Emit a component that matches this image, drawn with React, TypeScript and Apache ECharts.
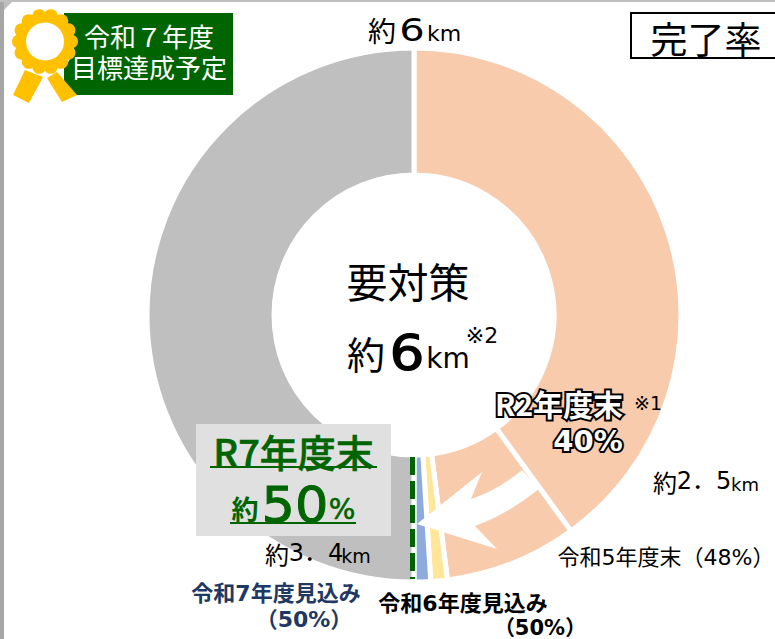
import React, { useEffect, useRef } from "react";
import * as echarts from "echarts";

const sliceNames = ["R2年度末", "令和5年度末", "令和6年度見込み", "令和7年度見込み", "残り"];
const sliceValues = [40, 8, 1, 1, 50];
const sliceColors = ["#F8CBAD", "#F8CBAD", "#FFE699", "#8FAADC", "#BFBFBF"];

const F = '"DejaVu Sans","Noto Sans CJK JP",sans-serif';
const J = '"Noto Sans CJK JP",sans-serif';
const GREEN = "#006400";
const NAVY = "#1F3864";

echarts.graphic.registerShape(
  "whiteArrow",
  echarts.graphic.extendPath(
    "M417 524 L482 472 L471 499 Q498 490 522 470 L539 489 Q508 514 475 526 L497 549 Z",
    {}
  )
);

function txt(x: number, y: number, text: string, size: number, fill: string, extra: any = {}) {
  return {
    type: "text",
    x,
    y,
    z: 20,
    ...(extra.scaleX ? { scaleX: extra.scaleX } : {}),
    style: {
      text,
      fill,
      font: `${extra.weight || "normal"} ${size}px ${extra.family || F}`,
      align: "center",
      verticalAlign: "middle",
      textAlign: "center",
      textVerticalAlign: "middle",
      ...(extra.stroke ? { stroke: extra.stroke, lineWidth: extra.lineWidth } : {}),
    },
  };
}

function badge() {
  const cx = 45;
  const cy = 41.5;
  const scallops: any[] = [];
  const n = 14;
  for (let i = 0; i < n; i++) {
    const a = (i / n) * Math.PI * 2;
    scallops.push({
      type: "circle",
      z: 12,
      shape: { cx: cx + 26 * Math.cos(a), cy: cy + 26 * Math.sin(a), r: 7 },
      style: { fill: "#FFC000" },
    });
  }
  return [
    { type: "polygon", z: 11, shape: { points: [[25, 70], [13, 95], [29, 103], [43, 77]] }, style: { fill: "#FFC000" } },
    { type: "polygon", z: 11, shape: { points: [[57, 72], [77, 95], [62, 102], [47, 78]] }, style: { fill: "#FFC000" } },
    { type: "circle", z: 11, shape: { cx, cy: cy + 3, r: 29 }, style: { fill: "#fff" } },
    ...scallops,
    { type: "circle", z: 12, shape: { cx, cy, r: 27 }, style: { fill: "#FFC000" } },
    { type: "circle", z: 13, shape: { cx, cy, r: 19 }, style: { fill: "#fff" } },
  ];
}

export default function App() {
  const ref = useRef<HTMLDivElement>(null);
  useEffect(() => {
    const chart = echarts.init(ref.current!, undefined, { renderer: "svg" });
    chart.setOption({
      animation: false,
      backgroundColor: "#fff",
      series: [
        {
          type: "pie",
          center: [414, 315],
          radius: [140, 267],
          startAngle: 90,
          clockwise: true,
          silent: true,
          label: { show: false },
          labelLine: { show: false },
          itemStyle: { borderColor: "#fff", borderWidth: 5 },
          data: sliceNames.map((name, i) => ({
            name,
            value: sliceValues[i],
            itemStyle: { color: sliceColors[i] },
          })),
        },
      ],
      graphic: {
        elements: [
          { type: "rect", z: 1, shape: { x: 0, y: 0, width: 4, height: 639 }, style: { fill: "#A6A6A6" } },
          { type: "rect", z: 1, shape: { x: 0, y: 0, width: 775, height: 2 }, style: { fill: "#BFBFBF" } },
          { type: "polygon", z: 1, shape: { points: [[4, 2], [12, 2], [4, 10]] }, style: { fill: "#BFBFBF" } },

          { type: "rect", z: 10, shape: { x: 64, y: 13, width: 169, height: 82 }, style: { fill: GREEN } },
          ...badge(),
          txt(149, 38, "令和７年度", 26, "#fff"),
          txt(149, 69, "目標達成予定", 26, "#fff"),

          { type: "rect", z: 10, shape: { x: 631, y: 13, width: 146, height: 45 }, style: { fill: "#fff", stroke: "#000", lineWidth: 2 } },
          txt(706, 38, "完了率", 37, "#000", { family: J }),

          txt(382, 30, "約", 28, "#000", { family: J }),
          txt(412, 30, "6", 32, "#000", { scaleX: 1.25 }),
          txt(444, 33, "km", 22, "#000"),

          txt(408, 280, "要対策", 41, "#000", { family: J }),
          txt(366, 352, "約", 38, "#000", { family: J }),
          txt(407, 352, "6", 50, "#000", { scaleX: 1.1, stroke: "#000", lineWidth: 1.2 }),
          txt(448, 358, "km", 28, "#000"),
          txt(482, 335, "※2", 22, "#000"),

          { type: "whiteArrow", z: 8, style: { fill: "#fff" } },
          { type: "line", z: 9, shape: { x1: 412.5, y1: 457, x2: 412.5, y2: 579 }, style: { stroke: GREEN, lineWidth: 5, lineDash: [18, 6] } },

          txt(559, 403, "R2年度末", 30, "#fff", { stroke: "#000", lineWidth: 4, family: J, weight: "bold" }),
          txt(648, 403, "※1", 19, "#000"),
          txt(588, 441, "40%", 29, "#fff", { stroke: "#000", lineWidth: 4, weight: "bold" }),

          txt(665, 481, "約", 24, "#000", { family: J }),
          txt(704, 481, "2．5", 24, "#000"),
          txt(745, 484, "km", 18, "#000"),
          txt(666, 557, "令和5年度末（48%）", 22, "#000"),

          { type: "rect", z: 10, shape: { x: 196, y: 424, width: 195, height: 112 }, style: { fill: "#E0E0E0" } },
          txt(293.5, 450, "R7年度末", 38, GREEN, { family: J, weight: 500, stroke: GREEN, lineWidth: 0.6 }),
          { type: "line", z: 20, shape: { x1: 210, y1: 467, x2: 377, y2: 467 }, style: { stroke: GREEN, lineWidth: 2 } },
          txt(245, 508, "約", 27, GREEN, { family: J, weight: "bold" }),
          txt(295, 504, "50", 50, GREEN, { scaleX: 1.05, stroke: GREEN, lineWidth: 1 }),
          txt(342, 509, "%", 28, GREEN, { stroke: GREEN, lineWidth: 0.6 }),
          { type: "line", z: 20, shape: { x1: 230, y1: 523, x2: 356, y2: 523 }, style: { stroke: GREEN, lineWidth: 2 } },

          txt(277, 553, "約", 24, "#000", { family: J }),
          txt(316, 553, "3．4", 24, "#000"),
          txt(356, 556, "km", 19, "#000"),

          txt(276, 593.5, "令和7年度見込み", 22, NAVY, { weight: "bold" }),
          txt(304, 619.5, "（50%）", 22, NAVY, { weight: "bold" }),
          txt(463, 603, "令和6年度見込み", 22, "#000", { weight: "bold" }),
          txt(540, 627.5, "（50%）", 21, "#000", { weight: "bold" }),
        ],
      },
    });
    return () => chart.dispose();
  }, []);
  return (
    <div
      ref={ref}
      style={{ position: "fixed", left: 0, top: 0, width: 775, height: 639 }}
    />
  );
}
